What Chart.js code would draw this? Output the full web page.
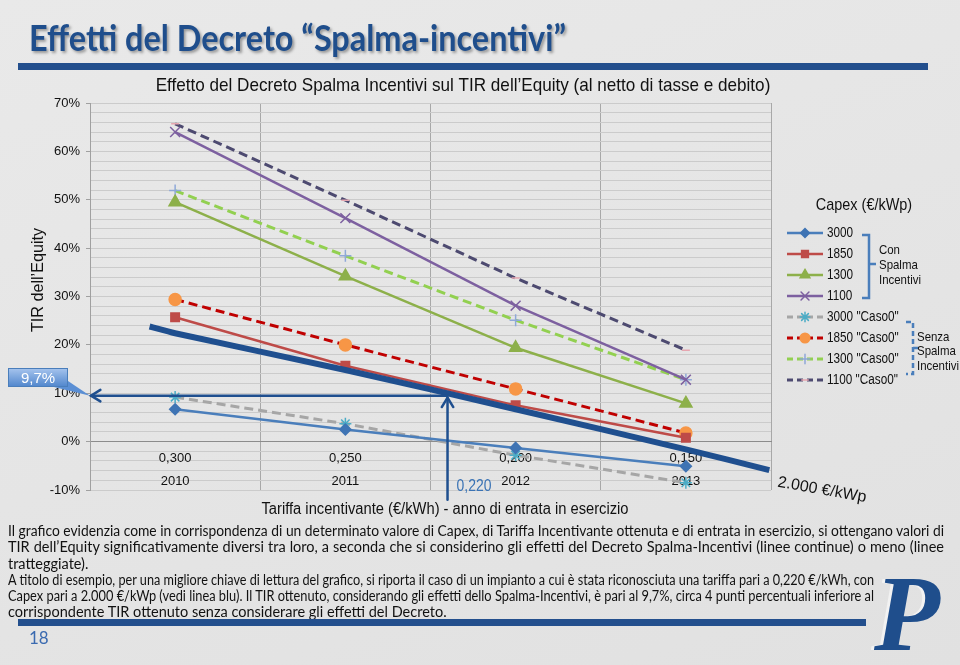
<!DOCTYPE html>
<html>
<head>
<meta charset="utf-8">
<script src="https://cdn.jsdelivr.net/npm/chart.js@4.4.1/dist/chart.umd.min.js"></script>
<style>
html, body { margin: 0; padding: 0; }
body {
    width: 960px; height: 665px; position: relative; overflow: hidden;
    background: linear-gradient(160deg, #e9e9e9, #e1e1e1);
    font-family: Lato, 'Liberation Sans', sans-serif;
}
#myChart { position: absolute; left: 0; top: 0; }
#head {
    position: absolute; left: 29px; top: 15px; white-space: nowrap;
    font: bold 36px Lato, 'Liberation Sans', sans-serif;
    color: #1f4e8c; text-shadow: 2px 2px 3px rgba(0, 0, 0, 0.35);
    transform-origin: left top;
}
.bar { position: absolute; background: #234f8d; }
#txt { position: absolute; left: 8px; top: 523px; width: 936px; font-size: 14.5px; line-height: 16.3px; color: #111; }
.ln { white-space: nowrap; text-align: justify; text-align-last: justify; transform-origin: left top; }
.ln.last { text-align-last: left; }
.ln.short { width: 866px; }
#page { position: absolute; left: 29px; top: 627px; font: 17px Lato, 'Liberation Sans', sans-serif; color: #3a6ab0; }
#logo {
    position: absolute; left: 874px; top: 552px;
    font: italic bold 108px 'Liberation Serif', 'DejaVu Serif', serif; color: #1f4e8c;
    text-shadow: -3px 0 0 #f2f2f2;
}
</style>
</head>
<body>
<canvas id="myChart" width="960" height="665"></canvas>
<div id="head">Effetti del Decreto “Spalma-incentivi”</div>
<div class="bar" style="left:18px; top:63px; width:910px; height:7px;"></div>
<div id="txt">
    <div class="ln">Il grafico evidenzia come in corrispondenza di un determinato valore di Capex, di Tariffa Incentivante ottenuta e di entrata in esercizio, si ottengano valori di</div>
    <div class="ln">TIR dell’Equity significativamente diversi tra loro, a seconda che si considerino gli effetti del Decreto Spalma-Incentivi (linee continue) o meno (linee</div>
    <div class="ln last">tratteggiate).</div>
    <div class="ln short">A titolo di esempio, per una migliore chiave di lettura del grafico, si riporta il caso di un impianto a cui è stata riconosciuta una tariffa pari a 0,220 €/kWh, con</div>
    <div class="ln short">Capex pari a 2.000 €/kWp (vedi linea blu). Il TIR ottenuto, considerando gli effetti dello Spalma-Incentivi, è pari al 9,7%, circa 4 punti percentuali inferiore al</div>
    <div class="ln last">corrispondente TIR ottenuto senza considerare gli effetti del Decreto.</div>
</div>
<div class="bar" style="left:18px; top:619px; width:848px; height:7px;"></div>
<div id="page">18</div>
<div id="logo">P</div>
<script>
// categorie: tariffa incentivante e anno di entrata in esercizio
const tariffe = ['0,300', '0,250', '0,200', '0,150'];
const anni = ['2010', '2011', '2012', '2013'];

// TIR dell'Equity (%) con Spalma Incentivi
const capex3000 = [6.7, 2.5, -1.3, -5.1];
const capex1850 = [25.7, 15.7, 7.5, 0.8];
const capex1300 = [49.5, 34.2, 19.4, 7.9];
const capex1100 = [64.0, 46.2, 28.1, 12.8];

// TIR dell'Equity (%) senza Spalma Incentivi ("Caso0")
const caso0_3000 = [9.2, 3.7, -2.8, -8.5];
const caso0_1850 = [29.4, 20.0, 10.9, 1.8];
const caso0_1300 = [51.9, 38.4, 25.1, 12.8];
const caso0_1100 = [65.7, 49.9, 33.8, 18.9];

// linea blu 2.000 €/kWp (x in posizione di categoria: 0 = 0,300 ... 3 = 0,150)
const blu2000X = [-0.15, 0, 1, 2, 3, 3.49];
const blu2000Y = [23.8, 22.4, 14.8, 6.7, -1.6, -5.9];

// esempio: tariffa 0,220 (tra 0,250 e 0,200) -> TIR 9,7%
const esempioX = 1.6;
const esempioTIR = 9.5;
const esempioBase = -12;

const sans = "'Liberation Sans', Arial, sans-serif";
Chart.defaults.font.family = sans;
Chart.defaults.color = '#111';

const serie = (label, data, color, dash, pStyle, pColor, pRadius, width) => ({
    label: label,
    data: data,
    borderColor: color,
    borderWidth: width || 2.5,
    borderDash: dash,
    pointStyle: pStyle,
    pointRadius: pRadius,
    pointBackgroundColor: pColor,
    pointBorderColor: pColor,
    pointBorderWidth: 1.5,
    tension: 0,
    fill: false,
    xAxisID: 'x',
    yAxisID: 'y',
});

const datasets = [
    serie('3000', capex3000, '#4a7ebb', [], 'rectRot', '#3f74b4', 5.5),
    serie('1850', capex1850, '#be4b48', [], 'rect', '#be4b48', 6),
    serie('1300', capex1300, '#8db04a', [], 'triangle', '#8db04a', 7),
    serie('1100', capex1100, '#7d60a0', [], 'crossRot', '#7d60a0', 7),
    serie('3000 "Caso0"', caso0_3000, '#a6a6a6', [9, 5], 'star', '#4bacc6', 6, 3),
    serie('1850 "Caso0"', caso0_1850, '#c00000', [9, 5], 'circle', '#f79646', 6, 3),
    serie('1300 "Caso0"', caso0_1300, '#92d050', [9, 5], 'cross', '#8fa8d8', 6, 3),
    serie('1100 "Caso0"', caso0_1100, '#4d4a70', [9, 5], 'line', '#e6a6b0', 4, 3),
];

datasets.push({
    label: '2.000 €/kWp',
    data: blu2000X.map((x, i) => ({ x: x, y: blu2000Y[i] })),
    borderColor: '#1f4f8f',
    borderWidth: 6,
    pointRadius: 0,
    tension: 0.3,
    xAxisID: 'xa',
    yAxisID: 'y',
    order: -1,
});

const freccia = (ctx, x1, y1, x2, y2) => {
    ctx.beginPath();
    ctx.moveTo(x1, y1);
    ctx.lineTo(x2, y2);
    ctx.stroke();
    const a = Math.atan2(y2 - y1, x2 - x1), L = 11;
    ctx.beginPath();
    ctx.moveTo(x2 - L * Math.cos(a - 0.55), y2 - L * Math.sin(a - 0.55));
    ctx.lineTo(x2, y2);
    ctx.lineTo(x2 - L * Math.cos(a + 0.55), y2 - L * Math.sin(a + 0.55));
    ctx.stroke();
};

// testo con compressione orizzontale (simula Arial Narrow)
const testo = (ctx, str, x, y, size, color, align, sx) => {
    ctx.save();
    ctx.translate(x, y);
    ctx.scale(sx || 1, 1);
    ctx.font = size + 'px ' + sans;
    ctx.fillStyle = color || '#111';
    ctx.textAlign = align || 'left';
    ctx.textBaseline = 'middle';
    ctx.fillText(str, 0, 0);
    ctx.restore();
};

const annotazioni = {
    id: 'annotazioni',
    afterDraw(chart) {
        const ctx = chart.ctx;
        const xa = chart.scales.xa, y = chart.scales.y;
        const area = chart.chartArea;
        ctx.save();

        // titoli
        testo(ctx, 'Effetto del Decreto Spalma Incentivi sul TIR dell’Equity (al netto di tasse e debito)', 463, 86, 19, '#111', 'center', 0.9);
        testo(ctx, 'Tariffa incentivante (€/kWh) - anno di entrata in esercizio', 445, 510, 16, '#111', 'center', 0.92);
        ctx.save();
        ctx.translate(38, 280);
        ctx.rotate(-Math.PI / 2);
        testo(ctx, 'TIR dell’Equity', 0, 0, 17, '#111', 'center', 0.95);
        ctx.restore();

        // frecce dell'esempio
        const ex = xa.getPixelForValue(esempioX);
        const ey = y.getPixelForValue(esempioTIR);
        ctx.strokeStyle = '#1f4f8f';
        ctx.lineWidth = 2.5;
        ctx.lineCap = 'round';
        freccia(ctx, ex, y.getPixelForValue(esempioBase), ex, ey + 2);
        freccia(ctx, ex, ey, area.left + 1, ey);
        testo(ctx, '0,220', ex + 9, 486, 17, '#3a73b5', 'left', 0.82);

        // etichetta 9,7%
        const bx = 8, by = 368, bw = 60, bh = 19;
        ctx.fillStyle = '#5b8fd4';
        ctx.beginPath();
        ctx.moveTo(bx + bw - 14, by + bh);
        ctx.lineTo(bx + bw, by + bh - 6);
        ctx.lineTo(area.left, ey);
        ctx.closePath();
        ctx.fill();
        const g = ctx.createLinearGradient(0, by, 0, by + bh);
        g.addColorStop(0, '#a7c5ee');
        g.addColorStop(1, '#4f85cc');
        ctx.fillStyle = g;
        ctx.fillRect(bx, by, bw, bh);
        ctx.strokeStyle = '#4a7ebb';
        ctx.lineWidth = 1;
        ctx.strokeRect(bx + 0.5, by + 0.5, bw - 1, bh - 1);
        testo(ctx, '9,7%', bx + bw / 2, by + bh / 2 + 1, 15, '#fff', 'center');

        // etichetta linea blu
        ctx.save();
        ctx.translate(822, 490);
        ctx.rotate(10 * Math.PI / 180);
        testo(ctx, '2.000 €/kWp', 0, 0, 16, '#111', 'center');
        ctx.restore();

        // legenda
        testo(ctx, 'Capex (€/kWp)', 864, 205, 17, '#111', 'center', 0.85);
        for (let i = 0; i < 8; i++) {
            const ds = chart.data.datasets[i];
            const ly = 233 + i * 21;
            ctx.save();
            ctx.strokeStyle = ds.borderColor;
            ctx.lineWidth = ds.borderWidth;
            ctx.setLineDash(ds.borderDash.length ? [6, 4] : []);
            ctx.lineCap = 'butt';
            ctx.beginPath();
            ctx.moveTo(787, ly);
            ctx.lineTo(823, ly);
            ctx.stroke();
            ctx.restore();
            ctx.fillStyle = ds.pointBackgroundColor;
            ctx.strokeStyle = ds.pointBorderColor;
            ctx.lineWidth = ds.pointBorderWidth;
            Chart.helpers.drawPoint(ctx, { pointStyle: ds.pointStyle, radius: ds.pointRadius * 0.8, rotation: 0, borderWidth: 1.5 }, 805, ly);
            testo(ctx, ds.label, 827, ly, 14, '#111', 'left', 0.84);
        }

        // parentesi
        ctx.strokeStyle = '#4a7ebb';
        ctx.lineWidth = 2.5;
        ctx.lineCap = 'butt';
        ctx.setLineDash([]);
        ctx.beginPath();
        ctx.moveTo(862, 235); ctx.lineTo(869, 235); ctx.lineTo(869, 298); ctx.lineTo(862, 298);
        ctx.moveTo(869, 264); ctx.lineTo(876, 264);
        ctx.stroke();
        ctx.setLineDash([5, 3]);
        ctx.beginPath();
        ctx.moveTo(906, 322); ctx.lineTo(913, 322); ctx.lineTo(913, 374); ctx.lineTo(906, 374);
        ctx.moveTo(913, 348); ctx.lineTo(918, 348);
        ctx.stroke();
        ctx.setLineDash([]);
        ['Con', 'Spalma', 'Incentivi'].forEach((t, i) => testo(ctx, t, 879, 250 + i * 15, 13, '#111', 'left', 0.88));
        ['Senza', 'Spalma', 'Incentivi'].forEach((t, i) => testo(ctx, t, 917, 337 + i * 14.5, 13, '#111', 'left', 0.88));

        ctx.restore();
    }
};

const ctx = document.getElementById('myChart').getContext('2d');
window.myChart = new Chart(ctx, {
    type: 'line',
    data: {
        labels: tariffe.map((t, i) => [t, anni[i]]),
        datasets: datasets,
    },
    options: {
        responsive: false,
        animation: false,
        devicePixelRatio: 1,
        layout: {
            padding: { left: 0, right: 189, top: 103, bottom: 175 }
        },
        scales: {
            x: {
                type: 'category',
                position: { y: 0 },
                offset: true,
                grid: { offset: true, color: '#a8a8a8', drawTicks: false },
                border: { color: '#8c8c8c', width: 1 },
                ticks: { padding: 5, font: { size: 13, lineHeight: 1.77 }, color: '#111', maxRotation: 0 },
            },
            xa: {
                type: 'linear',
                display: false,
                min: -0.5,
                max: 3.5,
            },
            y: {
                min: -10,
                max: 70,
                afterFit: (scale) => { scale.width = 90; },
                grid: {
                    color: (c) => c.tick.value === 0 ? '#8c8c8c' : '#cbcbcb',
                    tickColor: (c) => c.tick.value % 10 === 0 ? '#a0a0a0' : 'rgba(0,0,0,0)',
                    tickLength: 4,
                },
                border: { color: '#a0a0a0' },
                ticks: {
                    stepSize: 2,
                    maxTicksLimit: 100,
                    autoSkip: false,
                    padding: 6,
                    font: { size: 13 },
                    color: '#111',
                    callback: (v) => v % 10 === 0 ? v + '%' : '',
                },
            },
        },
        plugins: {
            legend: { display: false },
            title: { display: false },
            tooltip: { enabled: false },
        },
    },
    plugins: [annotazioni],
});

// adatta titolo e righe di testo alla larghezza della slide
const head = document.getElementById('head');
head.style.transform = 'scaleX(' + (537 / head.getBoundingClientRect().width) + ')';
document.querySelectorAll('.ln').forEach(el => {
    const target = el.clientWidth;
    const span = document.createElement('span');
    span.textContent = el.textContent;
    span.style.whiteSpace = 'nowrap';
    span.style.position = 'absolute';
    span.style.visibility = 'hidden';
    el.parentNode.appendChild(span);
    const natural = span.getBoundingClientRect().width;
    span.remove();
    if (natural > target) {
        el.style.width = natural + 'px';
        el.style.transform = 'scaleX(' + (target / natural) + ')';
    }
});
</script>
</body>
</html>
